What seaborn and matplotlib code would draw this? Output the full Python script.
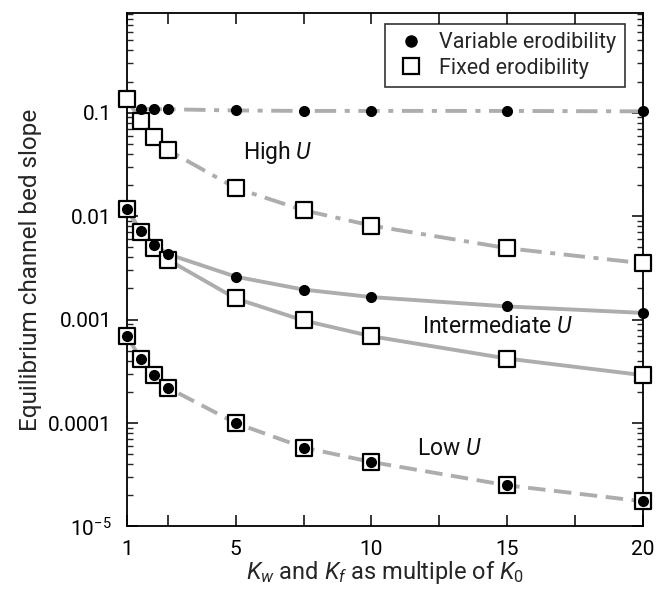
import numpy as np
import pandas as pd
import matplotlib
matplotlib.use("Agg")
import matplotlib.pyplot as plt
from matplotlib.ticker import FixedLocator, LogLocator, NullFormatter
from matplotlib.lines import Line2D
import seaborn as sns

# ---------------- data ----------------
x_all = [1, 1.5, 2, 2.5, 5, 7.5, 10, 15, 20]
x_high_var = [1.5, 2, 2.5, 5, 7.5, 10, 15, 20]

high_variable = [0.109, 0.108, 0.108, 0.105, 0.104, 0.104, 0.104, 0.103]
high_fixed = [0.136, 0.0836, 0.0577, 0.0436, 0.0187, 0.0114, 0.0081, 0.0049, 0.0035]
mid_variable = [0.0118, 0.0072, 0.0053, 0.0043, 0.0026, 0.00195, 0.00165, 0.00134, 0.00116]
mid_fixed = [0.0118, 0.0070, 0.0049, 0.0038, 0.0016, 0.00098, 0.00069, 0.00042, 0.00029]
low_variable = [0.00069, 0.00042, 0.00029, 0.00022, 0.0001, 5.8e-5, 4.2e-5, 2.5e-5, 1.75e-5]
low_fixed = [0.00069, 0.00042, 0.00029, 0.00022, 0.0001, 5.8e-5, 4.2e-5, 2.5e-5, 1.75e-5]

x_ticks = [1, 2.5, 5, 7.5, 10, 12.5, 15, 17.5, 20]
x_tick_labels = ["1", "", "5", "", "10", "", "15", "", "20"]
y_ticks = [1e-5, 1e-4, 1e-3, 1e-2, 1e-1]
y_tick_labels = ["$10^{-5}$", "0.0001", "0.001", "0.01", "0.1"]

legend_labels = ["Variable erodibility", "Fixed erodibility"]
annotations = [("High $U$", 5.27, 0.041), ("Intermediate $U$", 11.86, 8.5e-4), ("Low $U$", 11.67, 5.7e-5)]

# ---------------- style ----------------
sns.set_style("ticks")
plt.rcParams["font.family"] = ["Roboto", "DejaVu Sans"]
plt.rcParams["mathtext.fontset"] = "custom"
plt.rcParams["mathtext.rm"] = "Roboto"
plt.rcParams["mathtext.it"] = "Roboto:italic"
plt.rcParams["mathtext.bf"] = "Roboto:bold"

LINE_C = "#adadad"
LW = 2.8

fig = plt.figure(figsize=(6.67, 5.98), dpi=100)
ax = fig.add_axes([0.1904, 0.1196, 0.7736, 0.8587])

def frame(x, y):
    return pd.DataFrame({"x": x, "y": y})

# lines
ln = sns.lineplot(data=frame(x_high_var, high_variable), x="x", y="y", ax=ax, color=LINE_C, lw=LW,
                  estimator=None, zorder=1).lines[-1]
ln.set_dashes([5.5, 2.2, 1.3, 2.2])
ln = sns.lineplot(data=frame(x_all, high_fixed), x="x", y="y", ax=ax, color=LINE_C, lw=LW,
                  estimator=None, zorder=1).lines[-1]
ln.set_dashes([5.5, 2.2, 1.3, 2.2])
sns.lineplot(data=frame(x_all, mid_variable), x="x", y="y", ax=ax, color=LINE_C, lw=LW, estimator=None, zorder=1)
sns.lineplot(data=frame(x_all, mid_fixed), x="x", y="y", ax=ax, color=LINE_C, lw=LW, estimator=None, zorder=1)
ln = sns.lineplot(data=frame(x_all, low_variable), x="x", y="y", ax=ax, color=LINE_C, lw=LW,
                  estimator=None, zorder=1).lines[-1]
ln.set_dashes([4.5, 2.2])

# markers: squares first, then dots
SQ = dict(marker="s", s=125, facecolor="white", edgecolor="black", linewidth=1.6, zorder=3, clip_on=False)
DOT = dict(marker="o", s=64, color="black", edgecolor="black", linewidth=0, zorder=4, clip_on=False)
for xs, ys in [(x_all, high_fixed), (x_all, mid_fixed), (x_all, low_fixed)]:
    sns.scatterplot(data=frame(xs, ys), x="x", y="y", ax=ax, **SQ)
for xs, ys in [(x_high_var, high_variable), (x_all, mid_variable), (x_all, low_variable)]:
    sns.scatterplot(data=frame(xs, ys), x="x", y="y", ax=ax, **DOT)

# axes
ax.set_yscale("log")
ax.set_xlim(1, 20)
ax.set_ylim(1e-5, 0.92)
ax.xaxis.set_major_locator(FixedLocator(x_ticks))
ax.set_xticklabels(x_tick_labels)
ax.yaxis.set_major_locator(FixedLocator(y_ticks))
ax.set_yticklabels(y_tick_labels)
ax.yaxis.set_minor_locator(LogLocator(base=10, subs=np.arange(2, 10), numticks=20))
ax.yaxis.set_minor_formatter(NullFormatter())

ax.tick_params(axis="both", which="major", direction="in", length=8, width=1.1,
               top=True, right=True, labelsize=15, colors="black")
ax.tick_params(axis="y", which="major", pad=11)
ax.tick_params(axis="x", which="major", pad=10)
ax.tick_params(axis="y", which="minor", direction="in", length=4.5, width=1.0, left=True, right=True)
ax.tick_params(axis="x", which="minor", bottom=False, top=False)
for sp in ax.spines.values():
    sp.set_visible(True)
    sp.set_linewidth(1.3)
    sp.set_color("black")

ax.set_xlabel("$K_w$ and $K_f$ as multiple of $K_0$", fontsize=17, labelpad=0)
ax.set_ylabel("Equilibrium channel bed slope", fontsize=17.5, labelpad=4)

for txt, xx, yy in annotations:
    ax.text(xx, yy, txt, fontsize=16.5, ha="left", va="center", color="#111111")

handles = [Line2D([], [], marker="o", linestyle="none", markersize=8, color="black"),
           Line2D([], [], marker="s", linestyle="none", markersize=11, markerfacecolor="white",
                  markeredgecolor="black", markeredgewidth=1.6)]
leg = ax.legend(handles, legend_labels, loc="upper right", bbox_to_anchor=(0.965, 0.979),
                borderaxespad=0, frameon=True, fancybox=False, fontsize=15.5,
                handletextpad=0.5, labelspacing=0.2, borderpad=0.4, handlelength=1.6)
leg.get_frame().set_edgecolor("black")
leg.get_frame().set_linewidth(1.2)

fig.savefig("out.png", dpi=100)
